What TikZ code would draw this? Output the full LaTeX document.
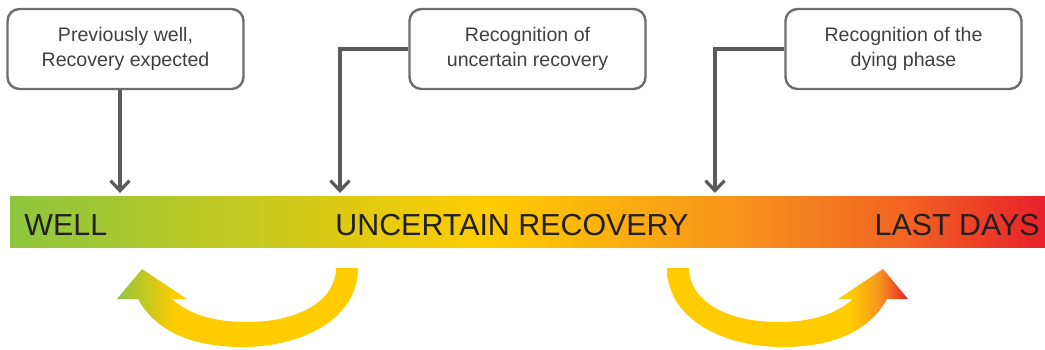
\documentclass[tikz,border=0pt]{standalone}
\usepackage{fontspec}
\setmainfont{Liberation Sans}
\usepackage{tikz}
\usetikzlibrary{arrows.meta}
\definecolor{wellgreen}{RGB}{141,198,63}
\definecolor{midyellow}{RGB}{255,204,0}
\definecolor{midorange}{RGB}{247,148,29}
\definecolor{deeporange}{RGB}{242,101,34}
\definecolor{lastred}{RGB}{232,32,42}
\definecolor{boxgray}{RGB}{110,110,110}
\definecolor{linegray}{RGB}{90,90,90}
\definecolor{textgray}{RGB}{64,64,64}
\definecolor{barblack}{RGB}{35,31,32}
\pgfdeclarehorizontalshading{barshade}{100bp}{color(0bp)=(wellgreen); color(25bp)=(wellgreen); color(48bp)=(midyellow); color(60bp)=(midorange); color(68bp)=(deeporange); color(75bp)=(lastred); color(100bp)=(lastred)}
\pgfdeclarehorizontalshading{backshade}{100bp}{color(0bp)=(wellgreen); color(25bp)=(wellgreen); color(37bp)=(midyellow); color(100bp)=(midyellow)}
\pgfdeclarehorizontalshading{forwardshade}{100bp}{color(0bp)=(midyellow); color(63bp)=(midyellow); color(69bp)=(midorange); color(75bp)=(lastred); color(100bp)=(lastred)}

\begin{document}
\begin{tikzpicture}[x=0.5pt,y=0.5pt,>={Straight Barb[length=5pt,width=9.5pt]}]
 \tikzstyle{note}=[draw=boxgray,line width=1.2pt,rounded corners=6pt,minimum width=118pt,minimum height=40pt,align=center,text=textgray,font=\fontsize{9.8}{12.5}\selectfont]
 \tikzstyle{pointer}=[->,draw=linegray,line width=1.6pt]
 \tikzstyle{stage}=[inner sep=0pt,text=barblack,font=\fontsize{15.2}{18}\selectfont]
   \useasboundingbox (0,0) rectangle (1045,349);
   % notes along the top
   \node[note] (well) at (125.5,300) {Previously well,\\Recovery expected};
   \node[note] (unc) at (527.5,300) {Recognition of\\uncertain recovery};
   \node[note] (dying) at (903.5,300) {Recognition of the\\dying phase};
   % the bar
   \node[shading=barshade,minimum width=517.5pt,minimum height=25.5pt,inner sep=0pt,outer sep=0pt] (bar) at (527.5,127.5) {};
   \node[stage,anchor=base west] (wellTxt) at (24,114) {WELL};
   \node[stage,anchor=base west] (uncTxt) at (335,114) {UNCERTAIN RECOVERY};
   \node[stage,anchor=base east] (lastTxt) at (1040,114) {LAST DAYS};
   \coordinate (t1) at (120,156);
   \coordinate (t2) at (340,156);
   \coordinate (t3) at (715,156);
    \draw[pointer] (well.south -| t1) -- (t1);
    \draw[pointer] (unc.west) -| (t2);
    \draw[pointer] (dying.west) -| (t3);
   % bent arrows under the bar
   \shade[shading=backshade] (358,81) .. controls (358,29) and (300,2) .. (243,2)
      .. controls (190,2) and (155,19) .. (138,50) -- (117,50) -- (142,80) -- (187,50) -- (172,50)
      .. controls (190,34) and (215,27) .. (247,27) .. controls (300,27) and (336,49) .. (336,81) -- cycle;
   \shade[shading=forwardshade] (667,81) .. controls (667,29) and (725,2) .. (782,2)
      .. controls (835,2) and (870,19) .. (887,50) -- (908,50) -- (883,80) -- (838,50) -- (853,50)
      .. controls (835,34) and (810,27) .. (778,27) .. controls (725,27) and (689,49) .. (689,81) -- cycle;
\end{tikzpicture}
\end{document}
